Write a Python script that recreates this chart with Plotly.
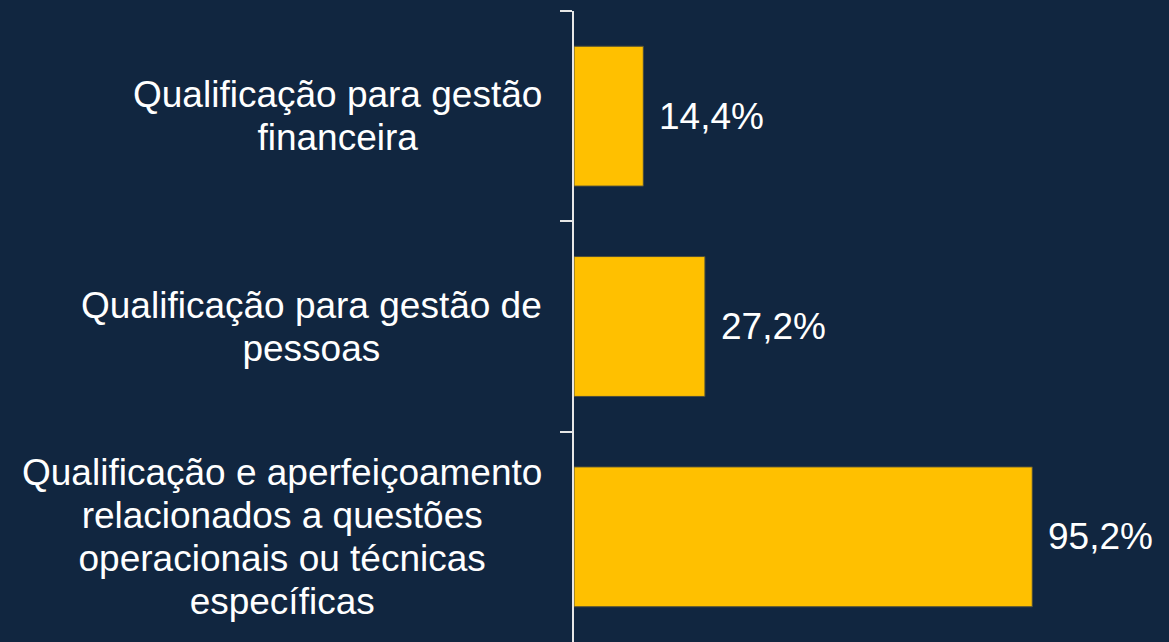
import plotly.graph_objects as go

categories = [
    "Qualificação para gestão<br>financeira",
    "Qualificação para gestão de<br>pessoas",
    "Qualificação e aperfeiçoamento<br>relacionados a questões<br>operacionais ou técnicas<br>específicas",
]
values = [14.4, 27.2, 95.2]
value_labels = ["14,4%", "27,2%", "95,2%"]

BG = "#112640"
BAR = "#FFC000"
AXIS = "#e6e6e6"
FONT = "Liberation Sans, Arial, sans-serif"

fig = go.Figure(
    go.Bar(
        y=categories,
        x=values,
        orientation="h",
        marker=dict(color=BAR, line=dict(color="#4d4d3a", width=1)),
        width=0.665,
        hoverinfo="skip",
    )
)

for cat, v, lab in zip(categories, values, value_labels):
    fig.add_annotation(
        x=v, y=cat, xref="x", yref="y", text=lab, showarrow=False,
        xanchor="left", yanchor="middle", xshift=14,
        font=dict(family=FONT, size=37, color="white"),
    )
    lines = cat.split("<br>")
    txt = "<br>".join(f'<span style="font-size:37px">{ln}</span>' for ln in lines)
    fig.add_annotation(
        x=0, y=cat, xref="x", yref="y", text=txt, showarrow=False,
        xanchor="right", yanchor="middle", align="center", xshift=-30,
        font=dict(family=FONT, size=33, color="white"),
    )

fig.update_layout(
    width=1169,
    height=642,
    paper_bgcolor=BG,
    plot_bgcolor=BG,
    margin=dict(l=574, r=0, t=11, b=0),
    showlegend=False,
)
fig.update_xaxes(range=[0, 123.6], visible=False)
fig.update_yaxes(
    categoryorder="array",
    categoryarray=categories,
    range=[2.5, -0.5],
    showticklabels=False,
    ticks="outside",
    tickson="boundaries",
    ticklen=12,
    tickcolor=AXIS,
    tickwidth=1.5,
    showline=True,
    linecolor=AXIS,
    linewidth=1.5,
    showgrid=False,
    zeroline=False,
)

fig.write_html(
    "out.html",
    config={"displayModeBar": False},
    post_script=(
        "document.body.style.margin='0';"
        "document.body.style.padding='0';"
        f"document.body.style.background='{BG}';"
        "document.body.style.overflow='hidden';"
    ),
)
